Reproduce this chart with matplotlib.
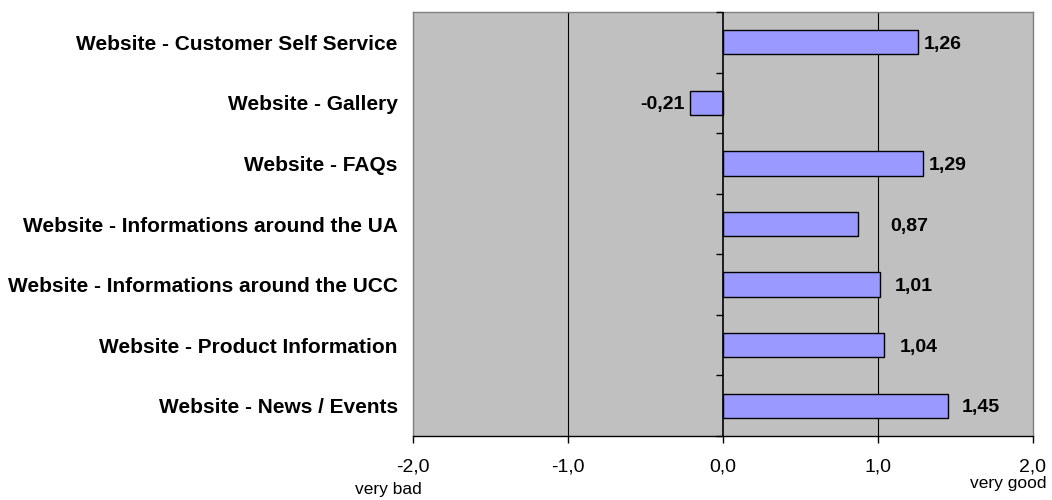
import numpy as np
import matplotlib.pyplot as plt

categories = [
    'Website - Customer Self Service',
    'Website - Gallery',
    'Website - FAQs',
    'Website - Informations around the UA',
    'Website - Informations around the UCC',
    'Website - Product Information',
    'Website - News / Events',
]
values = [1.26, -0.21, 1.29, 0.87, 1.01, 1.04, 1.45]
value_labels = ['1,26', '-0,21', '1,29', '0,87', '1,01', '1,04', '1,45']
x_ticks = [-2, -1, 0, 1, 2]
x_tick_labels = ['-2,0', '-1,0', '0,0', '1,0', '2,0']

# label nudges in points (the labels were dragged by hand in the original)
label_nudge = [4, 4, 4, 23, 11, 11, 10]

plt.rcParams['font.family'] = ['Liberation Sans', 'DejaVu Sans']

fig = plt.figure(figsize=(10.52, 5), dpi=100)
ax = fig.add_axes([413 / 1052, 1 - 436 / 500, 620 / 1052, 424 / 500])
ax.set_facecolor('#C0C0C0')

pos = np.arange(len(categories))
ax.barh(pos, values, height=0.4, color='#9999FF', edgecolor='black', linewidth=1, zorder=3)

for p, v, lab, dx in zip(pos, values, value_labels, label_nudge):
    if v >= 0:
        ax.annotate(lab, (v, p), xytext=(dx, 0), textcoords='offset points',
                    ha='left', va='center_baseline', fontsize=14, fontweight='bold', zorder=4)
    else:
        ax.annotate(lab, (v, p), xytext=(-dx, 0), textcoords='offset points',
                    ha='right', va='center_baseline', fontsize=14, fontweight='bold', zorder=4)

ax.set_xlim(-2, 2)
ax.set_ylim(len(categories) - 0.5, -0.5)

ax.set_xticks(x_ticks)
ax.set_xticklabels(x_tick_labels, fontsize=14)
ax.tick_params(axis='x', direction='out', length=5, width=1, pad=11, color='black')

ax.set_yticks(pos)
ax.set_yticklabels(categories, fontsize=15, fontweight='bold')
ax.tick_params(axis='y', length=0, pad=11)

# gridlines and value axis at zero
for xv in [-1, 1]:
    ax.axvline(xv, color='black', linewidth=0.8, zorder=1)
ax.axvline(0, color='black', linewidth=1.2, zorder=4)
bounds = np.arange(len(categories) + 1) - 0.5
ax.hlines(bounds, -0.045, 0, color='black', linewidth=1, zorder=4, clip_on=False)

for side in ['top', 'right', 'left']:
    ax.spines[side].set_color('#808080')
    ax.spines[side].set_linewidth(1)
ax.spines['bottom'].set_color('black')
ax.spines['bottom'].set_linewidth(1)

fig.text(1047 / 1052, 1 - 488 / 500, 'very good', ha='right', va='baseline', fontsize=12.5)
fig.text(355 / 1052, 1 - 494 / 500, 'very bad', ha='left', va='baseline', fontsize=12.5)

plt.savefig('out.png', dpi=100)
